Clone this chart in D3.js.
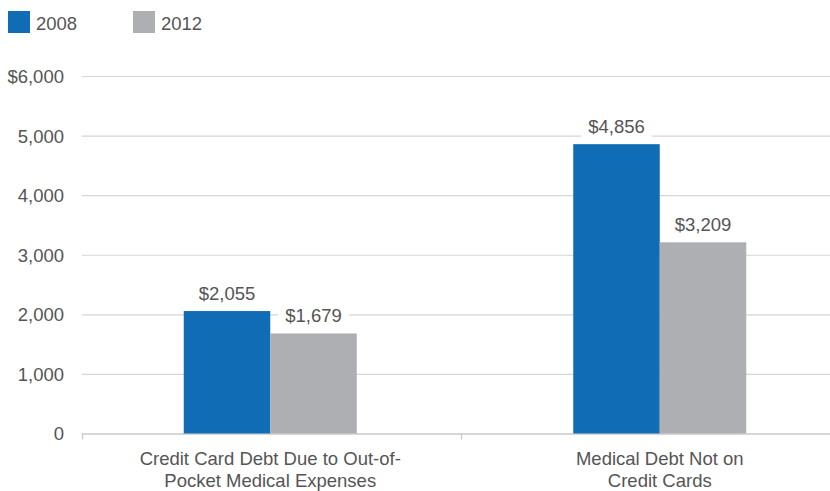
<!DOCTYPE html>
<html>
<head>
<meta charset="utf-8">
<script src="https://cdn.jsdelivr.net/npm/d3@7"></script>
<style>
  html, body { margin: 0; padding: 0; background: #fff; }
  svg { display: block; font-family: "Liberation Sans", Arial, Helvetica, sans-serif; }
</style>
</head>
<body>
<svg id="chart" width="830" height="491"></svg>
<script>
// Average medical debt by year
const categories = [
  ["Credit Card Debt Due to Out-of-", "Pocket Medical Expenses"],
  ["Medical Debt Not on", "Credit Cards"]
];
const years = ["2008", "2012"];
const values2008 = [2055, 4856];
const values2012 = [1679, 3209];
const yTicks = [0, 1000, 2000, 3000, 4000, 5000, 6000];
const colors = ["#106db5", "#aeafb2"];

const svg = d3.select("#chart");
const plotLeft = 82, plotRight = 830, yBase = 433.5, yTop = 76;
const fontSize = "18.5px";

const y = d3.scaleLinear().domain([0, 6000]).range([yBase, yTop]);
const catIdx = categories.map((d, i) => i);
const x0 = d3.scaleBand().domain(catIdx).range([75.5, 854.5]).paddingInner(0).paddingOuter(0);
const barW = 86.5;
const x1 = d3.scaleBand().domain(years).range([x0.bandwidth() / 2 - barW, x0.bandwidth() / 2 + barW]);

const fmtTick = d => d === 6000 ? "$" + d3.format(",")(d) : d3.format(",")(d);
const textColor = "#555555";

// horizontal gridlines and y tick labels
const yAxis = d3.axisLeft(y).tickValues(yTicks).tickSize(0).tickFormat(fmtTick);
const gy = svg.append("g").attr("transform", `translate(${plotLeft},0)`).call(yAxis);
gy.select(".domain").remove();
gy.selectAll("text")
  .attr("x", -18)
  .attr("dy", "0.35em")
  .attr("fill", textColor)
  .style("font-size", fontSize)
  .style("font-family", "'Liberation Sans', Arial, sans-serif");
gy.selectAll(".tick").append("line")
  .attr("x1", 0).attr("x2", plotRight - plotLeft)
  .attr("stroke", d => d === 0 ? "#c8c8c8" : "#d6d6d6")
  .attr("stroke-width", d => d === 0 ? 1.5 : 1.2);

// category tick marks on the baseline
const tickXs = [plotLeft + 0.5, x0(1) - 3.5];
svg.append("g").selectAll("line").data(tickXs).join("line")
  .attr("x1", d => d).attr("x2", d => d)
  .attr("y1", yBase).attr("y2", yBase + 6)
  .attr("stroke", "#c8c8c8").attr("stroke-width", 1.2);

// bars
const series = [values2008, values2012];
const groups = svg.append("g").selectAll("g").data(catIdx).join("g")
  .attr("transform", i => `translate(${x0(i)},0)`);

groups.selectAll("rect.bar")
  .data(i => years.map((yr, k) => ({ yr, k, v: series[k][i] })))
  .join("rect")
  .attr("class", "bar")
  .attr("x", d => x1(d.yr))
  .attr("width", x1.bandwidth())
  .attr("y", d => y(d.v))
  .attr("height", d => y(0) - y(d.v))
  .attr("fill", d => colors[d.k]);

// value labels with white backing
const labels = groups.selectAll("g.lab")
  .data(i => years.map((yr, k) => ({ yr, k, v: series[k][i] })))
  .join("g").attr("class", "lab");
labels.each(function (d) {
  const g = d3.select(this);
  const cx = x1(d.yr) + x1.bandwidth() / 2;
  const by = y(d.v) - 11;
  const t = g.append("text")
    .attr("x", cx).attr("y", by)
    .attr("text-anchor", "middle")
    .attr("fill", textColor)
    .style("font-size", fontSize)
    .text("$" + d3.format(",")(d.v));
  const bb = t.node().getBBox();
  g.insert("rect", "text")
    .attr("x", bb.x - 7).attr("y", bb.y - 1)
    .attr("width", bb.width + 14).attr("height", bb.height + 2)
    .attr("fill", "#fff");
});

// category labels
svg.append("g").selectAll("text").data(catIdx).join("text")
  .attr("x", i => x0(i) + x0.bandwidth() / 2)
  .attr("y", 465)
  .attr("text-anchor", "middle")
  .attr("fill", textColor)
  .style("font-size", fontSize)
  .each(function (i) {
    const t = d3.select(this);
    categories[i].forEach((line, j) => {
      t.append("tspan").attr("x", x0(i) + x0.bandwidth() / 2).attr("dy", j === 0 ? 0 : 22).text(line);
    });
  });

// legend
const leg = svg.append("g");
const legX = [8, 133];
years.forEach((yr, k) => {
  leg.append("rect").attr("x", legX[k]).attr("y", 11).attr("width", 22).attr("height", 22).attr("fill", colors[k]);
  leg.append("text").attr("x", legX[k] + 28).attr("y", 29.5)
    .attr("fill", textColor).style("font-size", fontSize).text(yr);
});
</script>
</body>
</html>
